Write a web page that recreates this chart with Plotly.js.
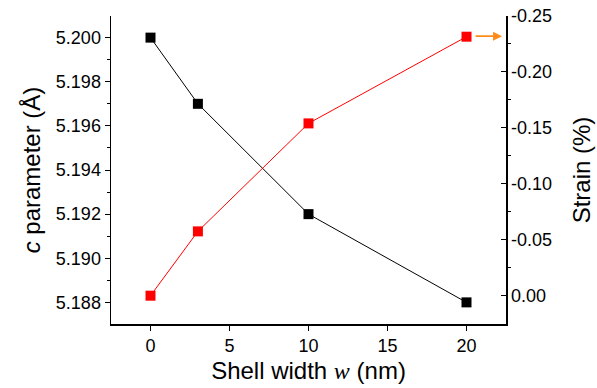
<!DOCTYPE html>
<html><head><meta charset="utf-8">
<script src="https://cdn.plot.ly/plotly-3.0.1.min.js"></script>
<style>html,body{margin:0;padding:0;background:#fff}#chart{width:597px;height:388px}</style>
</head><body><div id="chart"></div>
<script>
const shellWidth = [0, 3, 10, 20];
const cParam = [5.200, 5.197, 5.192, 5.188];
const strain = [0.000, -0.0575, -0.154, -0.2315];
const arrowStrain = -0.232;

const F = 'Liberation Sans, Arial, sans-serif';
const traces = [
  {x: shellWidth, y: cParam, type: 'scatter', mode: 'lines+markers',
   line: {color: '#000', width: 1}, marker: {symbol: 'square', size: 10, color: '#000'},
   yaxis: 'y', xaxis: 'x', showlegend: false},
  {x: shellWidth, y: strain, type: 'scatter', mode: 'lines+markers',
   line: {color: '#ff0000', width: 1}, marker: {symbol: 'square', size: 10, color: '#ff0000'},
   yaxis: 'y2', xaxis: 'x', showlegend: false}
];
const layout = {
  width: 597, height: 388,
  margin: {l: 111, r: 91, t: 16, b: 64},
  paper_bgcolor: '#fff', plot_bgcolor: '#fff',
  font: {family: F, size: 18, color: '#000'},
  xaxis: {range: [-2.5, 22.5], tickvals: [0,5,10,15,20], ticks: 'outside', ticklen: 5,
    tickcolor: '#000', showline: true, linecolor: '#000', linewidth: 1.5, showgrid: false, zeroline: false,
    title: {text: 'Shell width <span style="font-family:Liberation Serif"><i>w</i></span> (nm)', font: {size: 24}, standoff: 7}},
  xaxis2: {range: [-2.5, 22.5], overlaying: 'x', side: 'top', anchor: 'y', tickvals: [0,5,10,15,20],
    ticks: 'inside', ticklen: 5, tickcolor: '#555', showticklabels: false, showline: true,
    linecolor: '#555', linewidth: 1.5, showgrid: false, zeroline: false,
    minor: {tickvals: [2.5,7.5,12.5,17.5], ticks: 'inside', ticklen: 3, tickcolor: '#555'}},
  yaxis: {range: [5.18702, 5.20098], tickvals: [5.188,5.190,5.192,5.194,5.196,5.198,5.200],
    ticktext: ['5.188','5.190','5.192','5.194','5.196','5.198','5.200'],
    ticks: 'outside', ticklen: 5, tickcolor: '#000', showline: true, linecolor: '#000', linewidth: 1.5,
    showgrid: false, zeroline: false,
    minor: {dtick: 0.001, ticks: 'outside', ticklen: 3, tickcolor: '#000'},
    title: {text: '<i>c</i> parameter (Å)', font: {size: 24}, standoff: 8}},
  yaxis2: {range: [0.0253, -0.25], overlaying: 'y', side: 'right', anchor: 'x',
    tickvals: [0, -0.05, -0.10, -0.15, -0.20, -0.25],
    ticktext: ['0.00','-0.05','-0.10','-0.15','-0.20','-0.25'],
    ticks: 'inside', ticklen: 5, tickcolor: '#000', showline: true, linecolor: '#000', linewidth: 1.5,
    showgrid: false, zeroline: false,
    minor: {tickvals: [-0.025,-0.075,-0.125,-0.175,-0.225], ticks: 'outside', ticklen: 3, tickcolor: '#000'},
    title: {text: 'Strain (%)', font: {size: 24}, standoff: 22}},
  annotations: [{xref: 'paper', yref: 'y2', x: 0.99, y: arrowStrain, ax: -28, ay: 0,
    axref: 'pixel', ayref: 'pixel', showarrow: true, arrowhead: 2, arrowsize: 1, arrowwidth: 1.8,
    arrowcolor: '#ff8c1a', text: ''}]
};
Plotly.newPlot('chart', traces, layout, {displayModeBar: false, staticPlot: true});
</script></body></html>
